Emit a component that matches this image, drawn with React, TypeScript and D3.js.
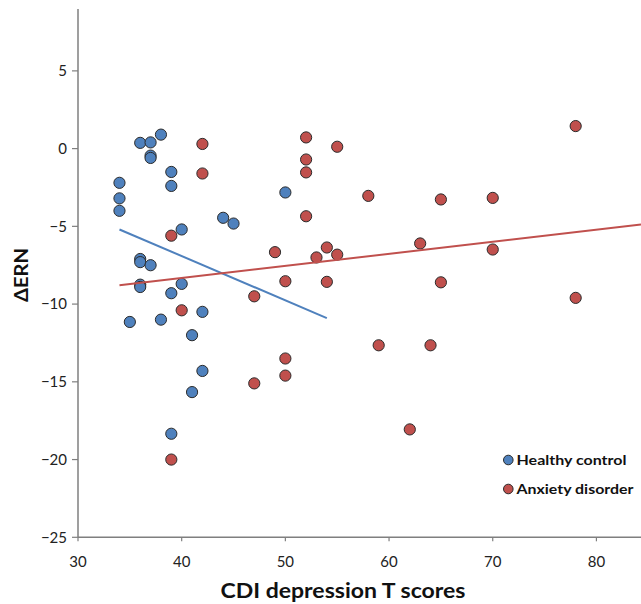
import React, { useEffect, useRef } from "react";
import * as d3 from "d3";

const healthyX = [34, 34, 34, 36, 37, 38, 37, 37, 39, 39, 40, 36, 36, 37, 36, 36, 40, 39, 42, 35, 38, 41, 42, 41, 39, 50, 44, 45];
const healthyY = [-2.2, -3.2, -4.0, 0.37, 0.4, 0.9, -0.45, -0.6, -1.5, -2.4, -5.2, -7.1, -7.3, -7.5, -8.75, -8.9, -8.7, -9.3, -10.5, -11.15, -11.0, -12.0, -14.3, -15.66, -18.34, -2.82, -4.45, -4.82];

const anxietyX = [39, 42, 42, 40, 39, 47, 50, 50, 52, 55, 52, 52, 52, 49, 54, 53, 55, 50, 54, 47, 78, 58, 65, 70, 63, 70, 65, 78, 59, 64, 62];
const anxietyY = [-5.6, 0.3, -1.6, -10.4, -20.0, -15.1, -13.5, -14.6, 0.72, 0.12, -0.7, -1.53, -4.35, -6.66, -6.36, -7.0, -6.82, -8.53, -8.57, -9.5, 1.45, -3.04, -3.27, -3.17, -6.1, -6.49, -8.6, -9.6, -12.65, -12.65, -18.06];

const healthyFitX = [34, 54];
const healthyFitY = [-5.2, -10.9];
const anxietyFitX = [34, 84.3];
const anxietyFitY = [-8.79, -4.88];

const xTicks = [30, 40, 50, 60, 70, 80];
const yTicks = [5, 0, -5, -10, -15, -20, -25];
const seriesNames = ["Healthy control", "Anxiety disorder"];
const xTitle = "CDI depression T scores";
const yTitle = "ΔERN";

const BLUE = "#4f81bd";
const RED = "#c0504d";

export default function App() {
  const ref = useRef<SVGSVGElement>(null);
  useEffect(() => {
    const svg = d3.select(ref.current);
    svg.selectAll("*").remove();
    const left = 78, right = 641, top = 9, bottom = 537.3;
    const x = d3.scaleLinear().domain([30, 84.3]).range([left, right]);
    const y = d3.scaleLinear().domain([-25, 8.98]).range([bottom, top]);
    const axisColor = "#7f7f7f";
    const font = "Lato, 'Open Sans', sans-serif";

    // axes
    svg.append("line").attr("x1", left).attr("x2", left).attr("y1", top).attr("y2", bottom)
      .attr("stroke", axisColor).attr("stroke-width", 1.5);
    svg.append("line").attr("x1", left).attr("x2", right).attr("y1", bottom).attr("y2", bottom)
      .attr("stroke", axisColor).attr("stroke-width", 1.5);

    yTicks.forEach((t) => {
      svg.append("line").attr("x1", left - 6).attr("x2", left).attr("y1", y(t)).attr("y2", y(t))
        .attr("stroke", axisColor).attr("stroke-width", 1.2);
      svg.append("text").attr("x", left - 11).attr("y", y(t)).attr("dy", "0.35em")
        .attr("text-anchor", "end").attr("font-family", font).attr("font-size", 15)
        .attr("fill", "#222").text(t < 0 ? "\u2212" + Math.abs(t) : String(t));
    });
    xTicks.forEach((t) => {
      svg.append("line").attr("x1", x(t)).attr("x2", x(t)).attr("y1", bottom).attr("y2", bottom + 4)
        .attr("stroke", axisColor).attr("stroke-width", 1.2);
      svg.append("text").attr("x", x(t)).attr("y", 567)
        .attr("text-anchor", "middle").attr("font-family", font).attr("font-size", 15)
        .attr("fill", "#222").text(String(t));
    });

    svg.append("text").attr("x", 343).attr("y", 598).attr("text-anchor", "middle")
      .attr("font-family", font).attr("font-weight", "bold").attr("font-size", 21)
      .attr("textLength", 245).attr("lengthAdjust", "spacingAndGlyphs")
      .attr("fill", "#111").text(xTitle);
    svg.append("text").attr("transform", "translate(27.5,275) rotate(-90)").attr("text-anchor", "middle")
      .attr("font-family", font).attr("font-weight", "bold").attr("font-size", 18.5)
      .attr("textLength", 54).attr("lengthAdjust", "spacingAndGlyphs")
      .attr("fill", "#111").text(yTitle);

    const g = svg.append("g");
    const drawPoints = (xs: number[], ys: number[], color: string) => {
      g.selectAll(null).data(xs.map((v, i) => [v, ys[i]])).enter().append("circle")
        .attr("cx", (d) => x(d[0])).attr("cy", (d) => y(d[1])).attr("r", 5.6)
        .attr("fill", color).attr("stroke", "#2b2b2b").attr("stroke-width", 1);
    };
    drawPoints(anxietyX, anxietyY, RED);
    drawPoints(healthyX, healthyY, BLUE);

    const line = d3.line<number[]>().x((d) => x(d[0])).y((d) => y(d[1]));
    svg.append("path").attr("d", line(healthyFitX.map((v, i) => [v, healthyFitY[i]])))
      .attr("stroke", BLUE).attr("stroke-width", 2).attr("fill", "none");
    svg.append("path").attr("d", line(anxietyFitX.map((v, i) => [v, anxietyFitY[i]])))
      .attr("stroke", RED).attr("stroke-width", 2).attr("fill", "none");

    // legend
    const legY = [460, 489];
    [BLUE, RED].forEach((c, i) => {
      svg.append("circle").attr("cx", 508.3).attr("cy", legY[i]).attr("r", 4.8)
        .attr("fill", c).attr("stroke", "#2b2b2b").attr("stroke-width", 1);
      svg.append("text").attr("x", 516.5).attr("y", legY[i]).attr("dy", "0.36em")
        .attr("font-family", font).attr("font-weight", "bold").attr("font-size", 13.5)
        .attr("textLength", i === 0 ? 110 : 117).attr("lengthAdjust", "spacingAndGlyphs")
        .attr("fill", "#111").text(seriesNames[i]);
    });
  }, []);
  return (
    <svg ref={ref} width={641} height={604}
      style={{ position: "absolute", left: 0, top: 0, background: "#fff", display: "block" }} />
  );
}
